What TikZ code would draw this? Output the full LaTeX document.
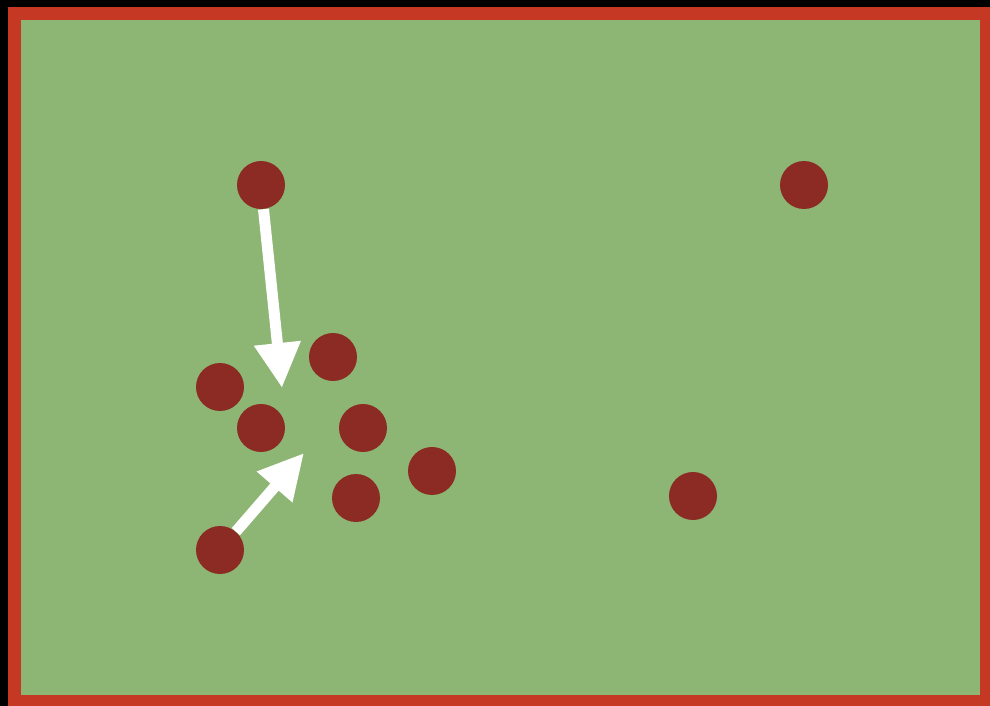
\documentclass[tikz,border=0pt]{standalone}
\usetikzlibrary{arrows.meta}

\definecolor{pitch}{RGB}{141,181,115}
\definecolor{frame}{RGB}{196,56,36}
\definecolor{player}{RGB}{140,42,36}

\begin{document}
\begin{tikzpicture}[
x=0.02cm, y=-0.02cm, % one unit per pixel, y down
>={Triangle[length=0.9cm, width=0.88cm]},
every node/.style={circle, fill=player, minimum size=0.96cm, inner sep=0pt},
move/.style={->, white, line width=0.22cm}
]
\useasboundingbox (0,0) rectangle (990,706);

% ================= Field =================
\fill[black] (0,0) rectangle (990,706);
\fill[frame] (8,7) rectangle (990,706);
\fill[pitch] (21,20) rectangle (980,695);

% ================= Nodes =================

% Top row
\node (TL) at (261, 185) {};
\node (TR) at (804, 185) {};

% Middle group
\node (M1) at (333, 357) {};
\node (M2) at (220, 387) {};
\node (M3) at (261, 428) {};
\node (M4) at (363, 428) {};
\node (M5) at (432, 471) {};
\node (M6) at (356, 498) {};

% Lower row
\node (BR) at (693, 496) {};
\node (BL) at (220, 550) {};

% Arrow ends
\coordinate (EndA) at (282, 388);
\coordinate (EndB) at (304, 453);

% ================= Edges =================
\draw[move] (TL) -- (EndA);
\draw[move] (BL) -- (EndB);

\end{tikzpicture}
\end{document}
